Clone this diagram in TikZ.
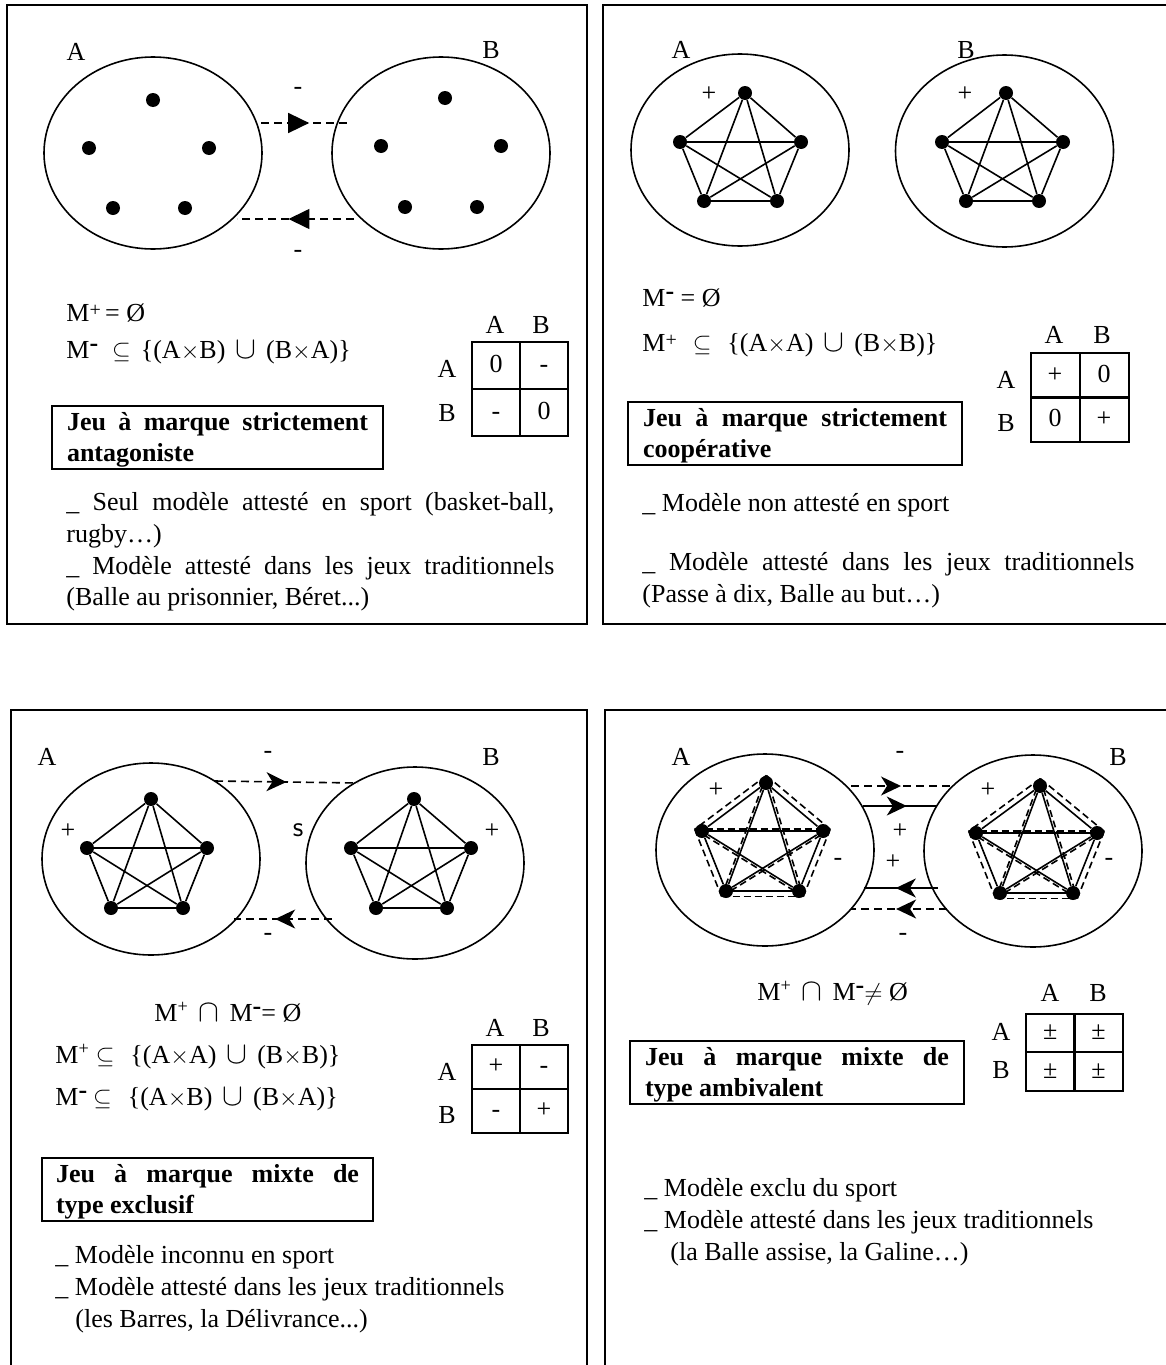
\documentclass[tikz,border=0pt]{standalone}
\usepackage{fontspec}
\setmainfont{Liberation Serif}
\usepackage{graphicx}
\usetikzlibrary{arrows.meta, positioning, calc, shapes.geometric, decorations.markings}

\newcommand\kfive{1/2,1/3,1/4,1/5,2/3,2/4,2/5,3/4,3/5,4/5}
\newcommand\mplus{M\raisebox{0.2em}{\fontsize{10}{12}\selectfont +}}
\newcommand\mminus{M\raisebox{0.28em}{\textbf{-}}}

\tikzset{
  pane/.style={line width=1pt},
  team/.style={ellipse, draw, line width=0.8pt, minimum width=109pt, minimum height=96pt, inner sep=0pt},
  player/.style={circle, fill, inner sep=0pt, minimum size=7pt},
  tie/.style={line width=0.8pt},
  lbl/.style={inner sep=0pt},
  cell/.style={draw, line width=1pt, inner sep=0pt, minimum width=24pt, minimum height=23.5pt,
    text height=0.68em, text depth=0pt},
  kind/.style={draw, line width=1pt, align=left, inner xsep=7.5pt, inner ysep=1pt, anchor=north west,
    font=\fontsize{13}{15.8}\selectfont\bfseries},
  note/.style={align=left, inner sep=0pt, anchor=north west},
  formula/.style={inner sep=0pt, anchor=base west},
  link/.style={line width=0.8pt, dash pattern=on 4pt off 2.5pt},
  midtri/.style={postaction={decorate}, decoration={markings,
    mark=at position #1 with {\arrow{Triangle[length=10.5pt, width=10pt]}}}},
  midstealth/.style={postaction={decorate}, decoration={markings,
    mark=at position #1 with {\arrow{Stealth[length=10pt, width=9.5pt, inset=3pt]}}}}
}

\begin{document}
\begin{tikzpicture}[x=0.5pt, y=-0.5pt, every node/.style={font=\fontsize{13}{15.8}\selectfont}]
\useasboundingbox (0,0) rectangle (1166,1365);

% frames
\draw[pane] (7,5) rectangle (587,624);
\draw[pane] (1166,5) -- (603,5) -- (603,624) -- (1166,624);
\draw[pane] (10.5,1365) -- (10.5,710) -- (587,710) -- (587,1365);
\draw[pane] (604.5,1365) -- (604.5,710) -- (1166,710);

% top left: strictly antagonistic
\node[team] (tlA) at (153,153) {};
\node[team] (tlB) at (441,153) {};
\node[lbl] (tlAname) at (76,52) {A};
\node[lbl] (tlBname) at (491,50) {B};
\foreach \n/\x/\y in {1/153/100, 2/89/148, 3/209/148, 4/113/208, 5/185/208}
  \node[player] (tla\n) at (\x,\y) {};
\foreach \n/\x/\y in {1/445/98, 2/381/146, 3/501/146, 4/405/207, 5/477/207}
  \node[player] (tlb\n) at (\x,\y) {};
\coordinate (tlgo1) at (261,123);
\coordinate (tlgo2) at (347,123);
\coordinate (tlback1) at (354,219);
\coordinate (tlback2) at (237,219);
\draw[link, midtri=0.56] (tlgo1) -- (tlgo2);
\draw[link, midtri=0.56] (tlback1) -- (tlback2);
\node[lbl] (tlgosign) at (298,91) {-};
\node[lbl] (tlbacksign) at (298,254) {-};

\node[formula] (tlnone) at (66,321.6) {\mplus\,= Ø};
\node[formula] (tlsub) at (66,358.6) {\mminus\hspace{7pt}$\subseteq$\hspace{5pt}\{(A$\times$B)\hspace{5pt}\scalebox{1.3}{$\cup$}\hspace{5pt}(B$\times$A)\}};

\node[lbl] (tlhA) at (495,325) {A};
\node[lbl] (tlhB) at (541,325) {B};
\node[lbl] (tlrA) at (447,369) {A};
\node[lbl] (tlrB) at (447,413) {B};
\node[cell] (tlAA) at (496,365.5) {0};
\node[cell] (tlAB) at (544,365.5) {-};
\node[cell] (tlBA) at (496,412.5) {-};
\node[cell] (tlBB) at (544,412.5) {0};

\node[kind] (tlkind) at (51,405) {\strut\makebox[150.5pt][s]{Jeu à marque strictement}\\antagoniste};
\node[note] (tlnote) at (66,488.3) {\strut\makebox[244pt][s]{\_ Seul modèle attesté en sport (basket-ball,}\\
  rugby…)\\
  \makebox[244pt][s]{\_ Modèle attesté dans les jeux traditionnels}\\
  (Balle au prisonnier, Béret...)};

% top right: strictly cooperative
\node[team] (trA) at (740,150) {};
\node[team] (trB) at (1004.5,151) {};
\node[lbl] (trAname) at (681,50) {A};
\node[lbl] (trBname) at (966,50) {B};
\foreach \n/\x/\y in {1/745/93, 2/680/142, 3/801/142, 4/704/201, 5/777/201}
  \node[player] (tra\n) at (\x,\y) {};
\foreach \n/\x/\y in {1/1006/93, 2/942/142, 3/1063/142, 4/966/201, 5/1039/201}
  \node[player] (trb\n) at (\x,\y) {};
\foreach \i/\j in \kfive {
  \draw[tie] (tra\i) -- (tra\j);
  \draw[tie] (trb\i) -- (trb\j);
}
\node[lbl] (trAsign) at (709,94) {+};
\node[lbl] (trBsign) at (965,94) {+};

\node[formula] (trnone) at (642,306.6) {\mminus\ = Ø};
\node[formula] (trsub) at (642,351.6) {\mplus\hspace{8pt}$\subseteq$\hspace{8pt}\{(A$\times$A)\hspace{5pt}\scalebox{1.3}{$\cup$}\hspace{5pt}(B$\times$B)\}};

\node[lbl] (trhA) at (1054,335) {A};
\node[lbl] (trhB) at (1102,335) {B};
\node[lbl] (trrA) at (1006,380) {A};
\node[lbl] (trrB) at (1006,423) {B};
\node[cell, minimum width=24.5pt, minimum height=22.75pt] (trAA) at (1055,375.5) {+};
\node[cell, minimum width=24.5pt, minimum height=22.75pt] (trAB) at (1104,375.5) {0};
\node[cell, minimum width=24.5pt, minimum height=22.75pt] (trBA) at (1055,419.5) {0};
\node[cell, minimum width=24.5pt, minimum height=22.75pt] (trBB) at (1104,419.5) {+};

\node[kind] (trkind) at (627,401) {\strut\makebox[152pt][s]{Jeu à marque strictement}\\coopérative};
\node[note] (trnote) at (642,489.3) {\strut\_ Modèle non attesté en sport\\[13.7pt]
  \makebox[246pt][s]{\_ Modèle attesté dans les jeux traditionnels}\\
  (Passe à dix, Balle au but…)};

% bottom left: mixed, exclusive
\node[team] (blA) at (151,859) {};
\node[team] (blB) at (415,863) {};
\node[lbl] (blAname) at (47,757) {A};
\node[lbl] (blBname) at (491,757) {B};
\foreach \n/\x/\y in {1/151/799, 2/87/848, 3/207/848, 4/111/908, 5/183/908}
  \node[player] (bla\n) at (\x,\y) {};
\foreach \n/\x/\y in {1/414/799, 2/351/848, 3/471/848, 4/376/908, 5/447/908}
  \node[player] (blb\n) at (\x,\y) {};
\foreach \i/\j in \kfive {
  \draw[tie] (bla\i) -- (bla\j);
  \draw[tie] (blb\i) -- (blb\j);
}
\node[lbl] (blAsign) at (68,831) {+};
\node[lbl] (blBsign) at (492,831) {+};
\node[lbl, font=\sffamily\fontsize{14}{16}\selectfont] (blmid) at (298,830) {s};
\coordinate (blgo1) at (215,781);
\coordinate (blgo2) at (358,783);
\coordinate (blback1) at (332,919);
\coordinate (blback2) at (234,919);
\draw[link, midstealth=0.5] (blgo1) -- (blgo2);
\draw[link, midstealth=0.58] (blback1) -- (blback2);
\node[lbl] (blgosign) at (268,755) {-};
\node[lbl] (blbacksign) at (268,937) {-};

\node[formula] (blcap) at (154,1021.6) {M\textsuperscript{+}\hspace{5pt}\scalebox{1.3}{$\cap$}\hspace{5pt}\mminus= Ø};
\node[formula] (blplus) at (55,1063.6) {M\textsuperscript{+}\hspace{3pt}$\subseteq$\hspace{8pt}\{(A$\times$A)\hspace{5pt}\scalebox{1.3}{$\cup$}\hspace{5pt}(B$\times$B)\}};
\node[formula] (blminus) at (55,1105.6) {\mminus\hspace{3pt}$\subseteq$\hspace{8pt}\{(A$\times$B)\hspace{5pt}\scalebox{1.3}{$\cup$}\hspace{5pt}(B$\times$A)\}};

\node[lbl] (blhA) at (495,1028) {A};
\node[lbl] (blhB) at (541,1028) {B};
\node[lbl] (blrA) at (447,1072) {A};
\node[lbl] (blrB) at (447,1115) {B};
\node[cell, minimum height=22pt] (blAA) at (496,1067) {+};
\node[cell, minimum height=22pt] (blAB) at (544,1067) {-};
\node[cell, minimum height=22pt] (blBA) at (496,1111) {-};
\node[cell, minimum height=22pt] (blBB) at (544,1111) {+};

\node[kind, inner xsep=7pt] (blkind) at (41,1157) {\strut\makebox[151.5pt][s]{Jeu à marque mixte de}\\type exclusif};
\node[note] (blnote) at (55,1241.3) {\strut\_ Modèle inconnu en sport\\
  \_ Modèle attesté dans les jeux traditionnels\\
  \hspace*{10pt}(les Barres, la Délivrance...)};

% bottom right: mixed, ambivalent
\node[team] (brA) at (765,850) {};
\node[team] (brB) at (1033,851) {};
\node[lbl] (brAname) at (681,757) {A};
\node[lbl] (brBname) at (1118,757) {B};
\foreach \n/\x/\y in {1/766/783, 2/702/831, 3/823/831, 4/726/891, 5/799/891}
  \node[player] (bra\n) at (\x,\y) {};
\foreach \n/\x/\y in {1/1040/786, 2/976/833, 3/1097/833, 4/1000/893, 5/1073/893}
  \node[player] (brb\n) at (\x,\y) {};
\coordinate (braMid) at (763,845.4);
\coordinate (brbMid) at (1037.2,847.6);
\foreach \i/\j in \kfive {
  \draw[tie] (bra\i) -- (bra\j);
  \draw[tie] (brb\i) -- (brb\j);
  \draw[tie, dash pattern=on 3.5pt off 2pt] ($(braMid)!1.12!(bra\i)$) -- ($(braMid)!1.12!(bra\j)$);
  \draw[tie, dash pattern=on 3.5pt off 2pt] ($(brbMid)!1.12!(brb\i)$) -- ($(brbMid)!1.12!(brb\j)$);
}
\node[lbl] (brAplus) at (716,790) {+};
\node[lbl] (brAminus) at (838,862) {-};
\node[lbl] (brBplus) at (988,790) {+};
\node[lbl] (brBminus) at (1109,862) {-};
\coordinate (brgo1) at (851,786);
\coordinate (brgo2) at (951,786);
\coordinate (brpass1) at (863,806);
\coordinate (brpass2) at (936,806);
\coordinate (brret1) at (938,888);
\coordinate (brret2) at (864,888);
\coordinate (brback1) at (947,909);
\coordinate (brback2) at (851,909);
\draw[link, midstealth=0.5] (brgo1) -- (brgo2);
\draw[tie, midstealth=0.6] (brpass1) -- (brpass2);
\draw[tie, midstealth=0.57] (brret1) -- (brret2);
\draw[link, midstealth=0.53] (brback1) -- (brback2);
\node[lbl] (brgosign) at (900,755) {-};
\node[lbl] (brpasssign) at (900,831) {+};
\node[lbl] (brretsign) at (893,862) {+};
\node[lbl] (brbacksign) at (903,937) {-};

\node[formula] (brcap) at (757,1000.6) {M\textsuperscript{+}\hspace{5pt}\scalebox{1.3}{$\cap$}\hspace{5pt}\mminus$\neq$ Ø};

\node[lbl] (brhA) at (1050,993) {A};
\node[lbl] (brhB) at (1098,993) {B};
\node[lbl] (brrA) at (1001,1032) {A};
\node[lbl] (brrB) at (1001,1070) {B};
\node[cell, minimum width=24.25pt, minimum height=19.25pt] (brAA) at (1050.25,1033) {±};
\node[cell, minimum width=24.25pt, minimum height=19.25pt] (brAB) at (1098.5,1033) {±};
\node[cell, minimum width=24.25pt, minimum height=19.25pt] (brBA) at (1050.25,1071.5) {±};
\node[cell, minimum width=24.25pt, minimum height=19.25pt] (brBB) at (1098.5,1071.5) {±};

\node[kind] (brkind) at (629,1040) {\strut\makebox[152pt][s]{Jeu à marque mixte de}\\type ambivalent};
\node[note] (brnote) at (644,1174.3) {\strut\_ Modèle exclu du sport\\
  \_ Modèle attesté dans les jeux traditionnels\\
  \hspace*{13pt}(la Balle assise, la Galine…)};
\end{tikzpicture}
\end{document}
